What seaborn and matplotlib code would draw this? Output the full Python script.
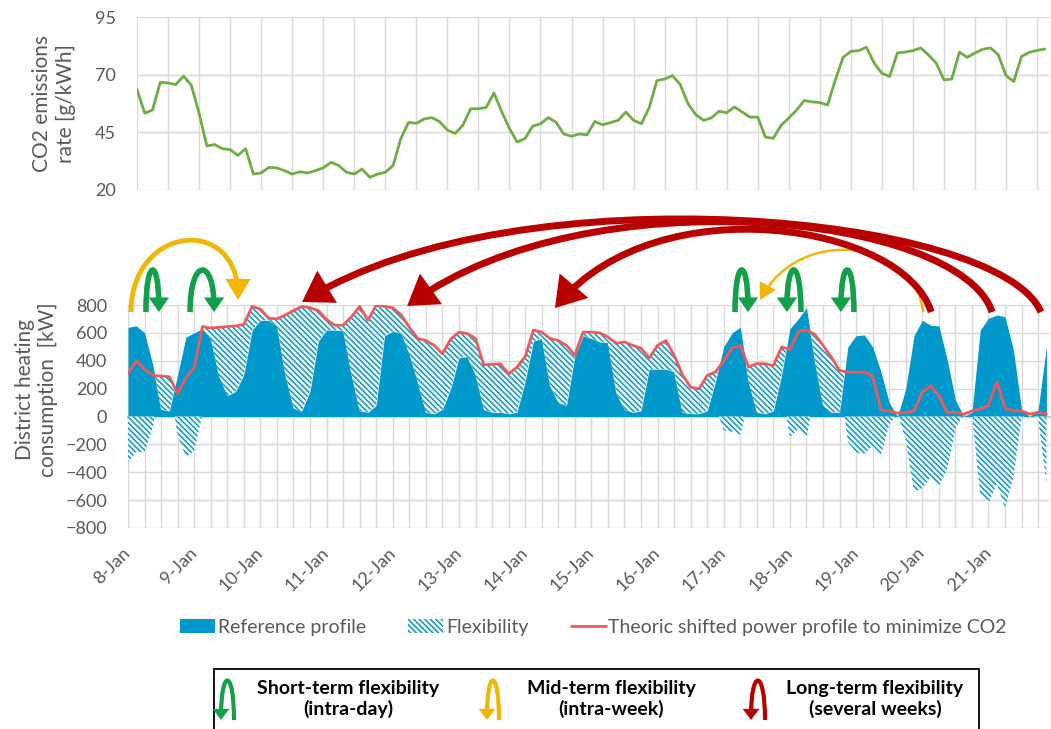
import numpy as np
import matplotlib
matplotlib.use("Agg")
import matplotlib.pyplot as plt
import seaborn as sns
from matplotlib.patches import FancyArrowPatch, Rectangle, Patch
from matplotlib.lines import Line2D
from matplotlib.path import Path

# ---------------- data (3-hour resolution) ----------------
STEP_H = 3

co2_rate = [63.5, 53.3, 54.7, 66.7, 66.4, 65.7, 69.4, 65.4, 53.3, 39.1,
            39.7, 37.9, 37.5, 35.0, 37.9, 26.9, 27.4, 29.8, 29.6, 28.4,
            26.9, 27.9, 27.4, 28.4, 29.6, 32.0, 30.6, 27.7, 26.9, 29.1,
            25.5, 26.9, 27.7, 30.6, 42.3, 49.3, 48.9, 50.8, 51.4, 49.6,
            46.0, 44.5, 48.1, 55.2, 55.2, 55.8, 62.1, 54.0, 46.7, 40.8,
            42.3, 47.7, 48.7, 51.4, 49.4, 44.3, 43.3, 44.3, 43.9, 49.7,
            48.3, 49.2, 50.2, 53.8, 50.2, 48.7, 55.6, 67.4, 68.1, 69.6,
            65.8, 57.5, 52.7, 50.2, 51.2, 54.1, 53.5, 56.0, 53.8, 51.6,
            51.6, 42.9, 42.4, 48.0, 51.2, 54.6, 58.8, 58.2, 57.9, 56.8,
            67.7, 77.5, 80.1, 80.4, 81.9, 75.0, 70.6, 69.2, 79.4, 79.8,
            80.4, 81.6, 78.6, 75.0, 67.7, 68.1, 79.8, 77.5, 79.4, 81.0,
            81.6, 78.6, 69.6, 67.0, 77.9, 79.7, 80.5, 81.1]

reference_kw = [640, 650, 600, 370, 50, 40, 300, 570, 600, 630,
                560, 290, 150, 180, 300, 620, 690, 690, 650, 300,
                60, 40, 180, 540, 620, 620, 615, 300, 40, 30,
                80, 580, 610, 600, 450, 250, 30, 20, 50, 200,
                420, 430, 300, 50, 30, 30, 20, 30, 250, 540,
                560, 220, 100, 80, 430, 580, 560, 535, 530, 170,
                50, 30, 40, 340, 340, 340, 320, 30, 20, 20,
                40, 250, 500, 600, 640, 250, 30, 20, 40, 300,
                630, 700, 780, 400, 80, 30, 30, 500, 580, 585,
                500, 320, 100, 0, 200, 580, 690, 655, 650, 410,
                120, 0, 30, 620, 705, 728, 715, 480, 50, 0,
                50, 500]

shifted_kw = [310, 400, 340, 295, 290, 285, 165, 280, 350, 645,
              635, 640, 645, 650, 660, 790, 770, 705, 700, 728,
              760, 790, 780, 760, 695, 655, 655, 715, 790, 690,
              800, 790, 780, 730, 640, 560, 545, 510, 450, 555,
              605, 595, 560, 370, 375, 378, 306, 354, 430, 620,
              605, 560, 545, 510, 440, 605, 605, 600, 570, 525,
              535, 510, 490, 420, 510, 545, 440, 300, 210, 198,
              294, 320, 400, 490, 510, 355, 380, 378, 366, 500,
              480, 610, 620, 590, 510, 426, 330, 318, 318, 318,
              290, 45, 40, 25, 30, 40, 175, 220, 150, 30,
              30, 17, 40, 55, 80, 246, 60, 40, 40, 17,
              30, 20]

day_labels = ["8-Jan", "9-Jan", "10-Jan", "11-Jan", "12-Jan", "13-Jan", "14-Jan",
              "15-Jan", "16-Jan", "17-Jan", "18-Jan", "19-Jan", "20-Jan", "21-Jan"]
co2_ticks = [20, 45, 70, 95]
kw_ticks = [-800, -600, -400, -200, 0, 200, 400, 600, 800]
series_labels = ["Reference profile", "Flexibility",
                 "Theoric shifted power profile to minimize CO2"]
flex_labels = ["Short-term flexibility\n(intra-day)",
               "Mid-term flexibility\n(intra-week)",
               "Long-term flexibility\n(several weeks)"]

# ---------------- style ----------------
BLUE = "#0199cb"
RED_LINE = "#f0595a"
GREEN_LINE = "#70ad47"
GRID = "#d9d9d9"
TXT = "#595959"
ARROW_RED = "#b80000"
ARROW_YEL = "#f2b705"
ARROW_GRN = "#12a04a"
HATCH = "\\\\\\\\\\\\"

sns.set_theme(style="white")
plt.rcParams["font.family"] = ["Lato", "DejaVu Sans"]
plt.rcParams["hatch.linewidth"] = 1.1

W, H = 1051, 729
fig = plt.figure(figsize=(W / 100, H / 100), dpi=100)


def px_axes(l, t, r, b):
    return fig.add_axes([l / W, 1 - b / H, (r - l) / W, (b - t) / H])


ax_top = px_axes(137, 17, 1050, 190)
ax = px_axes(128, 305, 1050, 528)

# ---------------- top chart: CO2 rate ----------------
co2 = np.array(co2_rate)
t_co2 = np.arange(len(co2)) * STEP_H
sns.lineplot(x=t_co2, y=co2, ax=ax_top, color=GREEN_LINE, lw=2)
ax_top.set_xlim(0, 353)
ax_top.set_ylim(co2_ticks[0], co2_ticks[-1])
ax_top.set_yticks(co2_ticks)
ax_top.set_xticks(np.arange(0, 353, 12))
ax_top.tick_params(axis="x", length=0, labelbottom=False)
ax_top.tick_params(axis="y", length=0, pad=15, labelsize=13, labelcolor=TXT)
ax_top.grid(True, color=GRID, lw=1)
for s in ax_top.spines.values():
    s.set_visible(False)
ax_top.set_xlabel("")
ax_top.set_ylabel("CO2 emissions\nrate [g/kWh]", fontsize=15, color=TXT)
ax_top.yaxis.set_label_coords(-0.067, 0.5)

# ---------------- bottom chart: district heating ----------------
ref = np.array(reference_kw, dtype=float)
shifted = np.array(shifted_kw, dtype=float)
flex = shifted - ref
t = np.arange(len(ref)) * STEP_H

ax.fill_between(t, 0, ref, color=BLUE, lw=0, zorder=2)
ax.fill_between(t, ref, shifted, where=shifted >= ref, interpolate=True,
                facecolor="white", edgecolor=BLUE, hatch=HATCH, lw=0, zorder=2)
ax.fill_between(t, 0, flex, where=flex <= 0, interpolate=True,
                facecolor="white", edgecolor=BLUE, hatch=HATCH, lw=0, zorder=2)
sns.lineplot(x=t, y=shifted, ax=ax, color=RED_LINE, lw=2, zorder=3)

ax.set_axisbelow(True)
ax.set_yticks(kw_ticks)
ax.set_xticks(np.arange(len(day_labels)) * 24)
ax.set_xticklabels(day_labels, rotation=45, ha="right", va="center",
                   rotation_mode="anchor")
ax.set_xticks(np.arange(0, 334, 6), minor=True)
ax.grid(True, which="both", color=GRID, lw=1)
ax.tick_params(axis="x", which="both", length=0, pad=16, labelsize=13,
               labelcolor=TXT)
ax.tick_params(axis="y", length=0, pad=15, labelsize=13, labelcolor=TXT)
for s in ax.spines.values():
    s.set_visible(False)
ax.set_xlabel("")
ax.set_ylabel("District heating\nconsumption  [kW]", fontsize=15, color=TXT)
ax.yaxis.set_label_coords(-0.076, 0.62)

# zero axis with day tick marks
sec = ax.secondary_xaxis(0.49999)
sec.set_xticks(np.arange(0, 334, 24))
sec.tick_params(length=5, width=1, color="#bfbfbf", labelbottom=False,
                labeltop=False, direction="out")
for s in sec.spines.values():
    s.set_color("#bfbfbf")
    s.set_linewidth(1.5)


# ---------------- flexibility arrows (cubic curves) ----------------
def make_arrow(pts, color, lw, hl, hw, transform, z=6):
    path = Path(pts, [Path.MOVETO, Path.CURVE4, Path.CURVE4, Path.CURVE4])
    return FancyArrowPatch(path=path,
                           arrowstyle=f"-|>,head_length={hl},head_width={hw}",
                           color=color, lw=lw, transform=transform, clip_on=False,
                           mutation_scale=1, zorder=z, joinstyle="miter",
                           capstyle="butt")


T = ax.transData
chart_arrows = [
    # long-term (red): (hours, kW) control points
    ([(331.0, 749.5), (316.2, 1448.6), (142.1, 1773.0), (63.1, 821.6)], ARROW_RED, 5, 14, 9, 6),
    ([(313.3, 749.5), (301.7, 1448.6), (167.5, 1736.9), (101.2, 792.8)], ARROW_RED, 5, 14, 9, 6),
    ([(291.2, 749.5), (281.7, 1376.6), (192.9, 1664.9), (154.8, 778.4)], ARROW_RED, 5, 14, 9, 6),
    # mid-term (yellow)
    ([(1.1, 749.5), (1.1, 1376.6), (39.9, 1448.6), (39.9, 836.0)], ARROW_YEL, 3.5, 10, 6, 7),
    ([(288.3, 749.5), (285.4, 1268.5), (243.7, 1376.6), (229.2, 836.0)], ARROW_YEL, 1.8, 9, 5, 5),
]
for xt, xh in [(6.5, 11.2), (22.5, 31.2), (220.1, 224.8), (244.0, 238.9), (263.2, 258.5)]:
    chart_arrows.append(([(xt, 749.5), (xt, 1145.9), (xh, 1145.9), (xh, 749.5)],
                         ARROW_GRN, 4, 5, 3.5, 8))
for pts, col, lw, hl, hw, z in chart_arrows:
    ax.add_patch(make_arrow(pts, col, lw, hl, hw, T, z))

ax.set_xlim(0, 334.3)
ax.set_ylim(kw_ticks[0], kw_ticks[-1])

# ---------------- series legend ----------------
handles = [Patch(facecolor=BLUE, edgecolor=BLUE, lw=0),
           Patch(facecolor="white", edgecolor=BLUE, hatch=HATCH, lw=0),
           Line2D([], [], color=RED_LINE, lw=2)]
fig.legend(handles, series_labels, loc="center",
           bbox_to_anchor=(593.5 / W, 1 - 627 / H), ncol=3, frameon=False,
           fontsize=14, handlelength=1.8, handleheight=0.7,
           handletextpad=0.12, columnspacing=2.2, labelcolor=TXT)

# ---------------- flexibility type legend box ----------------
fig.patches.append(Rectangle((214 / W, -0.05), (979 - 214) / W, 0.05 + (729 - 669) / H,
                             transform=fig.transFigure, fill=False,
                             edgecolor="black", lw=1.3))

icon_colors = [ARROW_GRN, ARROW_YEL, ARROW_RED]
icon_x = [(221, 234), (487, 499), (751, 765)]
yb, yt = 1 - 720 / H, 1 - 668 / H
for (xh, xt), col in zip(icon_x, icon_colors):
    pts = [(xt / W, yb), (xt / W, yt), (xh / W, yt), (xh / W, yb)]
    fig.patches.append(make_arrow(pts, col, 3, 4, 3, fig.transFigure))

for xc, lab in zip([348, 611, 875], flex_labels):
    fig.text(xc / W, 1 - 699 / H, lab, ha="center", va="center",
             multialignment="center", fontsize=14, fontweight="bold",
             color="black", linespacing=1.15)

fig.savefig("out.png", dpi=100)
